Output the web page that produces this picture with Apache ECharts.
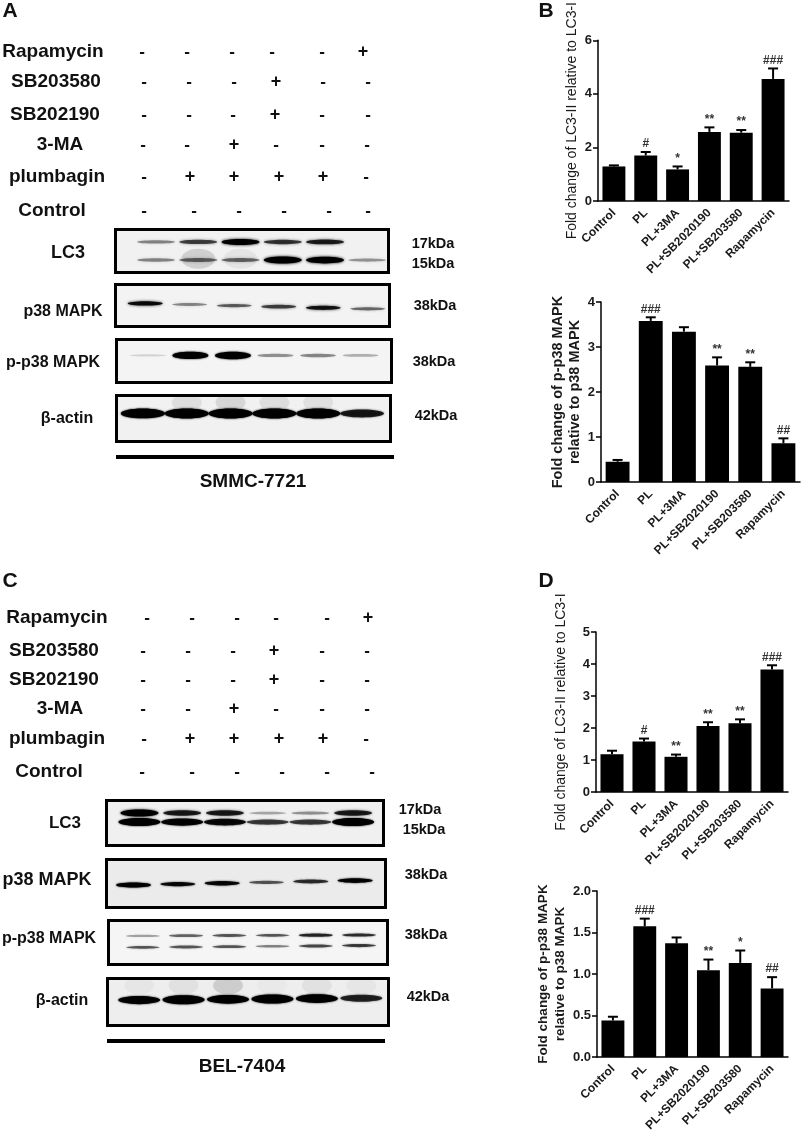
<!DOCTYPE html>
<html>
<head>
    <meta charset="UTF-8">
    <title>Fold change of LC3 and p38 MAPK</title>
    <script src="https://cdn.jsdelivr.net/npm/echarts@6/dist/echarts.min.js"></script>
    <style>
        html, body { margin: 0; padding: 0; background: #fff; }
        #main { width: 803px; height: 1135px; }
    </style>
</head>
<body>
<div id="main"></div>
<script type="text/javascript">
    var categories = ['Control', 'PL', 'PL+3MA', 'PL+SB2020190', 'PL+SB203580', 'Rapamycin'];

    // bar heights, top of the error bar, and the significance marks
    var bLc3Values = [1.29, 1.70, 1.18, 2.58, 2.55, 4.56];
    var bLc3Upper = [1.33, 1.83, 1.29, 2.75, 2.65, 4.95];
    var bLc3Marks = ['', '#', '*', '**', '**', '###'];

    var bP38Values = [0.45, 3.58, 3.34, 2.59, 2.56, 0.86];
    var bP38Upper = [0.49, 3.66, 3.44, 2.77, 2.66, 0.97];
    var bP38Marks = ['', '###', '', '**', '**', '##'];

    var dLc3Values = [1.18, 1.58, 1.10, 2.06, 2.15, 3.83];
    var dLc3Upper = [1.29, 1.67, 1.17, 2.18, 2.27, 3.96];
    var dLc3Marks = ['', '#', '**', '**', '**', '###'];

    var dP38Values = [0.44, 1.575, 1.37, 1.046, 1.134, 0.826];
    var dP38Upper = [0.485, 1.667, 1.44, 1.174, 1.283, 0.962];
    var dP38Marks = ['', '###', '', '**', '*', '##'];

    // treatment table, one string per row
    var treatmentNames = ['Rapamycin', 'SB203580', 'SB202190', '3-MA', 'plumbagin', 'Control'];
    var treatmentSigns = ['-----+', '---+--', '---+--', '--+---', '-++++-', '------'];

    // band strength per lane on the blots, 0 to 1
    var aLc3Top = [0.3, 0.55, 1, 0.6, 0.7, 0];
    var aLc3Bottom = [0.3, 0.4, 0.4, 1, 0.95, 0.25];
    var aLc3Smear = [0, 0.13, 0.05, 0, 0, 0];
    var aP38 = [0.8, 0.3, 0.45, 0.55, 0.75, 0.4];
    var aPP38 = [0.02, 0.95, 1, 0.25, 0.28, 0.15];
    var aActin = [0.95, 1, 1, 1, 1, 0.7];
    var aActinSmear = [0, 0.08, 0.1, 0.08, 0.07, 0];
    var cLc3Top = [1, 0.7, 0.7, 0.18, 0.25, 0.7];
    var cLc3Bottom = [1, 0.85, 0.8, 0.55, 0.55, 1];
    var cP38 = [1, 0.8, 0.8, 0.45, 0.6, 0.85];
    var cPP38Top = [0.2, 0.4, 0.45, 0.45, 0.65, 0.6];
    var cPP38Bottom = [0.45, 0.45, 0.45, 0.3, 0.5, 0.55];
    var cActin = [0.85, 1, 0.95, 1, 0.95, 0.65];
    var cActinSmear = [0.03, 0.05, 0.13, 0.02, 0.05, 0.03];

    var font = '"Liberation Sans", Arial, sans-serif';

    var barCharts = [
        {left: 598, top: 40, width: 191, height: 161, max: 6, interval: 2, digits: 0, gap: 17, size: 14, weight: 'normal',
            name: 'Fold change of LC3-II relative to LC3-I', values: bLc3Values, upper: bLc3Upper, marks: bLc3Marks},
        {left: 601, top: 302, width: 199, height: 180, max: 4, interval: 1, digits: 0, gap: 16, size: 14.5, weight: 'bold',
            name: 'Fold change of p-p38 MAPK\nrelative to p38 MAPK', values: bP38Values, upper: bP38Upper, marks: bP38Marks},
        {left: 596, top: 632, width: 192, height: 160, max: 5, interval: 1, digits: 0, gap: 26, size: 14, weight: 'normal',
            name: 'Fold change of LC3-II relative to LC3-I', values: dLc3Values, upper: dLc3Upper, marks: dLc3Marks},
        {left: 597, top: 891, width: 191, height: 166, max: 2, interval: 0.5, digits: 1, gap: 26, size: 13.5, weight: 'bold',
            name: 'Fold change of p-p38 MAPK\nrelative to p38 MAPK', values: dP38Values, upper: dP38Upper, marks: dP38Marks}
    ];

    // frame = left, top, right, bottom (outer edge); lanes = first lane centre, lane step
    var blots = [
        {frame: [114, 228, 390, 274], lanes: [155, 42.7], bg: '#f1f1f1', rows: [
            {y: [0.68, 0.68], h: [20, 20], w: 34, blur: 10, values: aLc3Smear},
            {y: [0.29, 0.29], h: [2, 6], w: 38, blur: 3, values: aLc3Top},
            {y: [0.71, 0.71], h: [2, 7], w: 38, blur: 3, values: aLc3Bottom}]},
        {frame: [114, 283, 391, 328], lanes: [144, 45], bg: '#f3f3f3', rows: [
            {y: [0.45, 0.58], h: [2, 5], w: 35, blur: 3, values: aP38}]},
        {frame: [115, 338, 393, 384], lanes: [146.7, 43], bg: '#f4f4f4', rows: [
            {y: [0.37, 0.37], h: [2, 7.5], w: 36, blur: 2, values: aPP38}]},
        {frame: [115, 394, 392, 443], lanes: [141.7, 44.3], bg: '#f1f1f1', rows: [
            {y: [0.15, 0.15], h: [18, 18], w: 30, blur: 10, values: aActinSmear},
            {y: [0.39, 0.39], h: [3, 10], w: 44, blur: 2, values: aActin}]},
        {frame: [105, 799, 385, 847], lanes: [138.3, 43.2], bg: '#f0f0f0', rows: [
            {y: [0.28, 0.28], h: [2, 7], w: 38, blur: 2.5, values: cLc3Top},
            {y: [0.48, 0.48], h: [2, 8], w: 42, blur: 2, values: cLc3Bottom}]},
        {frame: [105, 858, 387, 909], lanes: [132.3, 44.8], bg: '#ebebeb', rows: [
            {y: [0.53, 0.44], h: [2, 5], w: 35, blur: 2, values: cP38}]},
        {frame: [107, 919, 389, 966], lanes: [141.7, 43.7], bg: '#f5f5f5', rows: [
            {y: [0.35, 0.33], h: [2, 4], w: 34, blur: 2, values: cPP38Top},
            {y: [0.61, 0.57], h: [2, 4], w: 34, blur: 2, values: cPP38Bottom}]},
        {frame: [106, 977, 390, 1027], lanes: [138, 44.9], bg: '#eeeeee', rows: [
            {y: [0.15, 0.15], h: [18, 18], w: 30, blur: 8, values: cActinSmear},
            {y: [0.46, 0.42], h: [3, 9], w: 42, blur: 2, values: cActin}]}
    ];

    var textRows = [
        // panel letters
        ['A', 10, 11, 21], ['B', 546, 11, 21], ['C', 10, 581, 21], ['D', 546, 581, 21],
        // blot names, panel A
        ['LC3', 68, 253, 18], ['p38 MAPK', 63, 312, 16], ['p-p38 MAPK', 53, 363, 16], ['β-actin', 67, 419, 16],
        ['17kDa', 433, 244, 14.5], ['15kDa', 433, 264, 14.5], ['38kDa', 435, 306, 14.5], ['38kDa', 434, 362, 14.5], ['42kDa', 436, 416, 14.5],
        ['SMMC-7721', 253, 482, 19],
        // blot names, panel C
        ['LC3', 65, 823, 17], ['p38 MAPK', 47, 880, 18], ['p-p38 MAPK', 49, 939, 16], ['β-actin', 62, 1001, 16],
        ['17kDa', 420, 810, 14.5], ['15kDa', 424, 830, 14.5], ['38kDa', 426, 875, 14.5], ['38kDa', 426, 935, 14.5], ['42kDa', 428, 997, 14.5],
        ['BEL-7404', 242, 1067, 19]
    ];

    // treatment table layout
    var tables = [
        {names: [53, 56, 55, 60, 57, 52], ys: [52, 82, 115, 145, 177, 211], cols: [
            [142, 187, 232, 272, 322, 363],
            [144, 189, 234, 276, 323, 368],
            [144, 189, 233, 275, 322, 368],
            [143, 187, 234, 276, 322, 367],
            [144, 190, 234, 279, 323, 366],
            [144, 194, 239, 284, 329, 368]]},
        {names: [57, 54, 54, 60, 57, 49], ys: [618, 651, 680, 709, 739, 772], cols: [
            [147, 192, 237, 276, 327, 368],
            [143, 188, 233, 274, 322, 367],
            [143, 188, 233, 274, 322, 367],
            [143, 188, 234, 276, 322, 367],
            [144, 190, 234, 279, 323, 366],
            [142, 192, 237, 282, 327, 372]]}
    ];

    var grids = [], xAxes = [], yAxes = [], seriesList = [], graphics = [];

    function addText(text, x, y, size) {
        graphics.push({
            type: 'text', x: x, y: y,
            style: {text: text, align: 'center', verticalAlign: 'middle', fill: '#111', font: 'bold ' + size + 'px ' + font}
        });
    }

    barCharts.forEach(function (c) {
        var idx = grids.length;
        grids.push({left: c.left, top: c.top, width: c.width, height: c.height});
        xAxes.push({
            type: 'category', gridIndex: idx, data: categories,
            axisLine: {lineStyle: {color: '#000', width: 1.5}},
            axisTick: {alignWithLabel: true, length: 5, lineStyle: {color: '#000', width: 1.5}},
            axisLabel: {interval: 0, rotate: 45, margin: 10, color: '#1a1a1a', fontFamily: font, fontWeight: 'bold', fontSize: 12}
        });
        yAxes.push({
            type: 'value', gridIndex: idx, min: 0, max: c.max, interval: c.interval,
            name: c.name, nameLocation: 'middle', nameGap: c.gap,
            nameTextStyle: {color: '#1a1a1a', fontFamily: font, fontSize: c.size, fontWeight: c.weight, lineHeight: 17},
            splitLine: {show: false},
            axisLine: {show: true, lineStyle: {color: '#000', width: 1.5}},
            axisTick: {show: true, length: 5, lineStyle: {color: '#000', width: 1.5}},
            axisLabel: {margin: 6, color: '#1a1a1a', fontFamily: font, fontWeight: 'bold', fontSize: 13,
                formatter: function (v) { return v.toFixed(c.digits); }}
        });
        seriesList.push({
            type: 'bar', xAxisIndex: idx, yAxisIndex: idx, barWidth: '72%',
            itemStyle: {color: '#000'}, data: c.values
        });
        // error bar with its significance mark above
        seriesList.push({
            type: 'custom', xAxisIndex: idx, yAxisIndex: idx, z: 3,
            data: c.values.map(function (v, i) { return [i, v, c.upper[i], c.marks[i]]; }),
            encode: {x: 0, y: [1, 2]},
            renderItem: function (params, api) {
                var base = api.coord([api.value(0), api.value(1)]);
                var top = api.coord([api.value(0), api.value(2)]);
                var mark = c.marks[params.dataIndex];
                var lineStyle = {stroke: '#000', lineWidth: 2};
                return {type: 'group', children: [
                    {type: 'line', shape: {x1: base[0], y1: base[1], x2: top[0], y2: top[1]}, style: lineStyle},
                    {type: 'line', shape: {x1: top[0] - 5, y1: top[1], x2: top[0] + 5, y2: top[1]}, style: lineStyle},
                    {type: 'text', style: {text: mark, x: top[0], y: top[1] - 2, align: 'center', verticalAlign: 'bottom',
                        fill: '#333', font: 'bold 12px ' + font}}
                ]};
            }
        });
    });

    blots.forEach(function (b) {
        var idx = grids.length;
        var f = b.frame;
        grids.push({
            left: f[0] + 1.5, top: f[1] + 1.5, width: f[2] - f[0] - 3, height: f[3] - f[1] - 3,
            show: true, backgroundColor: b.bg, borderColor: '#000', borderWidth: 3
        });
        xAxes.push({
            type: 'value', gridIndex: idx, show: false,
            min: (f[0] - b.lanes[0]) / b.lanes[1], max: (f[2] - b.lanes[0]) / b.lanes[1]
        });
        yAxes.push({type: 'value', gridIndex: idx, show: false, inverse: true, min: 0, max: 1});
        var bands = [];
        b.rows.forEach(function (r) {
            r.values.forEach(function (v, i) {
                if (v > 0) bands.push([i, r.y[0] + (r.y[1] - r.y[0]) * i / 5, v, r.h[0] + (r.h[1] - r.h[0]) * v, r.w, r.blur]);
            });
        });
        seriesList.push({
            type: 'custom', xAxisIndex: idx, yAxisIndex: idx, clip: true, data: bands,
            encode: {x: 0, y: 1},
            renderItem: function (params, api) {
                var p = api.coord([api.value(0), api.value(1)]);
                var w = api.value(4), h = api.value(3), v = api.value(2);
                var alpha = h > 15 ? v : Math.min(1, 0.1 + v);
                return {
                    type: 'ellipse',
                    shape: {cx: p[0], cy: p[1], rx: w / 2, ry: h / 2},
                    style: {fill: 'rgba(0,0,0,' + alpha + ')', shadowBlur: api.value(5), shadowColor: 'rgba(0,0,0,' + alpha + ')'}
                };
            }
        });
    });

    // thick rule under each blot stack
    graphics.push({type: 'rect', shape: {x: 116, y: 455, width: 278, height: 4}, style: {fill: '#000'}});
    graphics.push({type: 'rect', shape: {x: 107, y: 1039, width: 278, height: 4}, style: {fill: '#000'}});

    textRows.forEach(function (t) { addText(t[0], t[1], t[2], t[3]); });

    tables.forEach(function (t) {
        treatmentNames.forEach(function (name, r) {
            addText(name, t.names[r], t.ys[r], 19);
            treatmentSigns[r].split('').forEach(function (s, c) {
                addText(s, t.cols[r][c], t.ys[r], s === '+' ? 18 : 17);
            });
        });
    });

    var myChart = echarts.init(document.getElementById('main'));
    myChart.setOption({
        animation: false,
        backgroundColor: '#fff',
        grid: grids,
        xAxis: xAxes,
        yAxis: yAxes,
        series: seriesList,
        graphic: graphics
    });
</script>
</body>
</html>
